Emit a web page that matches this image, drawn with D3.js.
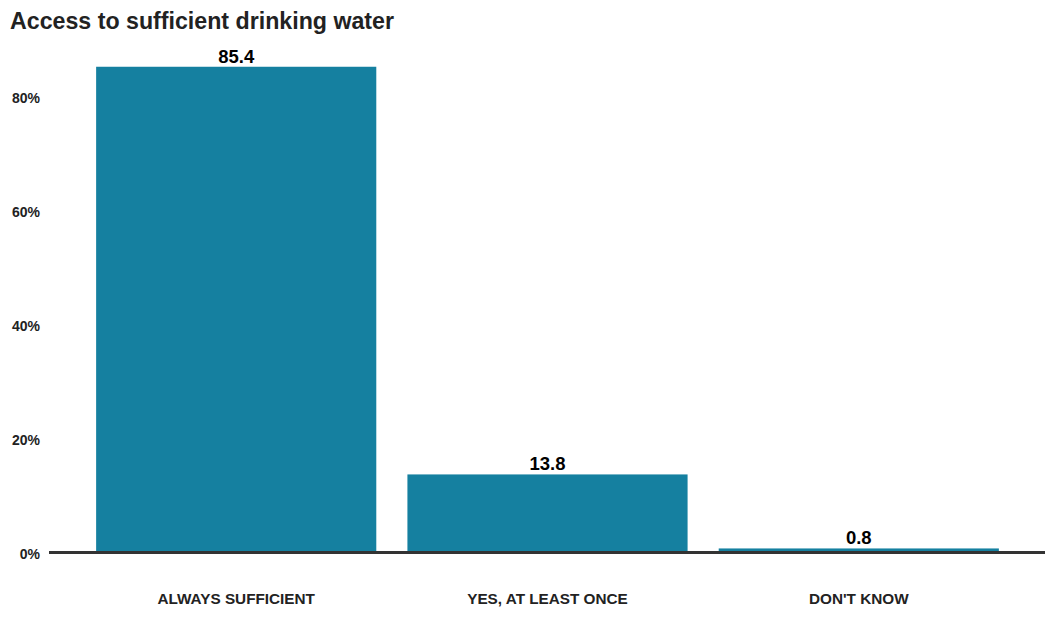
<!DOCTYPE html>
<html>
<head>
<meta charset="utf-8">
<script src="https://cdn.jsdelivr.net/npm/d3@7"></script>
<style>
  html, body { margin: 0; padding: 0; background: #fff; }
  svg { display: block; font-family: "Liberation Sans", Arial, sans-serif; }
</style>
</head>
<body>
<svg id="chart" width="1045" height="627"></svg>
<script>
// Survey responses: share of respondents (%)
const categories = ["ALWAYS SUFFICIENT", "YES, AT LEAST ONCE", "DON'T KNOW"];
const values = [85.4, 13.8, 0.8];
const yTicks = [0, 20, 40, 60, 80];
const title = "Access to sufficient drinking water";

const svg = d3.select("#chart");
const barColor = "#1580a0";
const textColor = "#222222";

const x = d3.scaleBand()
  .domain(categories)
  .range([65, 1030])
  .paddingInner(0.1)
  .paddingOuter(0.1);

const y = d3.scaleLinear()
  .domain([0, 80])
  .range([553, 97.5]);

// Title
svg.append("text")
  .attr("x", 10)
  .attr("y", 28.5)
  .attr("font-size", 23.2)
  .attr("font-weight", "bold")
  .attr("fill", textColor)
  .text(title);

// Y axis (labels only)
const yAxis = d3.axisLeft(y)
  .tickValues(yTicks)
  .tickSize(0)
  .tickPadding(0)
  .tickFormat(d => d + "%");

const yG = svg.append("g")
  .attr("transform", "translate(40,1)")
  .call(yAxis);
yG.select(".domain").remove();
yG.selectAll("text")
  .attr("font-size", 14)
  .attr("font-weight", "bold")
  .attr("font-family", "Liberation Sans, Arial, sans-serif")
  .attr("fill", textColor);

// Bars
svg.append("g")
  .selectAll("rect")
  .data(values)
  .join("rect")
  .attr("x", (d, i) => x(categories[i]))
  .attr("width", x.bandwidth())
  .attr("y", d => y(d))
  .attr("height", d => y(0) - y(d))
  .attr("fill", barColor);

// Value labels
svg.append("g")
  .selectAll("text")
  .data(values)
  .join("text")
  .attr("x", (d, i) => x(categories[i]) + x.bandwidth() / 2)
  .attr("y", d => y(d) - 4)
  .attr("text-anchor", "middle")
  .attr("font-size", 18.5)
  .attr("font-weight", "bold")
  .attr("fill", "#000")
  .text(d => d.toFixed(1));

// Baseline
svg.append("line")
  .attr("x1", 49)
  .attr("x2", 1045)
  .attr("y1", 552.5)
  .attr("y2", 552.5)
  .attr("stroke", "#333333")
  .attr("stroke-width", 3);

// X axis (category labels only)
const xAxis = d3.axisBottom(x).tickSize(0).tickPadding(0);
const xG = svg.append("g")
  .attr("transform", "translate(0,593)")
  .call(xAxis);
xG.select(".domain").remove();
xG.selectAll("text")
  .attr("font-size", 15.3)
  .attr("font-weight", "bold")
  .attr("font-family", "Liberation Sans, Arial, sans-serif")
  .attr("fill", textColor);
</script>
</body>
</html>
